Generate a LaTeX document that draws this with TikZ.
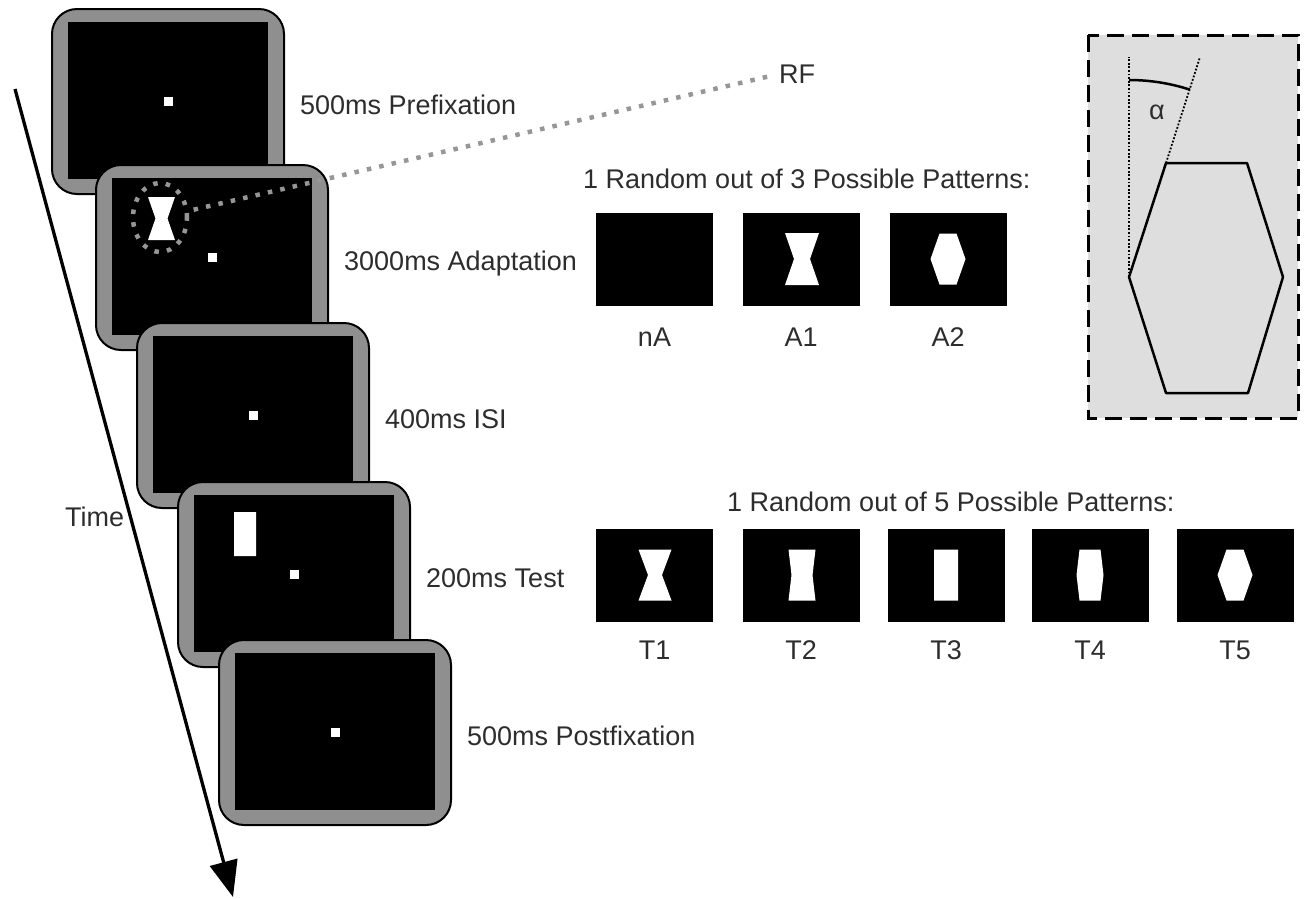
\documentclass[tikz,border=0pt]{standalone}
\usepackage{fontspec}
\setmainfont{Liberation Sans}
\usetikzlibrary{arrows.meta,calc,shapes.geometric}
\definecolor{scrgray}{RGB}{143,143,143}
\definecolor{txt}{RGB}{45,45,45}
\definecolor{insetbg}{RGB}{222,222,222}
\definecolor{rfgray}{RGB}{150,150,150}

\newcommand{\patshape}[5]{\fill[white] ({#1-(#3)/2},{#2-(#5)/2}) -- ({#1+(#3)/2},{#2-(#5)/2}) -- ({#1+(#4)/2},{#2}) -- ({#1+(#3)/2},{#2+(#5)/2}) -- ({#1-(#3)/2},{#2+(#5)/2}) -- ({#1-(#4)/2},{#2}) -- cycle;}
\newcommand{\screenbox}[2]{%
  \draw[line width=2pt, fill=scrgray, rounded corners=25pt] (#1,#2) rectangle ++(232,185);
  \fill[black] ({#1+16},{#2+13}) rectangle ++(200,157);
  \fill[white] ({#1+116-4.5},{#2+92.5-4.5}) rectangle ++(9,9);}
\newcommand{\patbox}[2]{\fill[black] ({#1-58.5},{#2-46.5}) rectangle ++(117,93);}

\tikzset{
  lab/.style={anchor=west, inner sep=0pt, text height=19.4pt, text depth=0pt,
    font=\fontsize{27}{31}\selectfont, text=txt},
  clab/.style={lab, anchor=center},
  glab/.style={inner sep=0pt, font=\fontsize{27}{31}\selectfont, text=txt},
  rfdots/.style={draw=rfgray, line width=4.5pt, dash pattern=on 4.5pt off 8.2pt},
}

\begin{document}
\begin{tikzpicture}[x=1pt,y=-1pt]
\useasboundingbox (0,0) rectangle (1305,898);

% time arrow
\coordinate (t0) at (15,89);
\coordinate (t1) at (233,897);
\draw[line width=3.3pt, -{Triangle[length=36pt,width=28pt]}] (t0) -- (t1);
\node[lab] (time) at (65,517) {Time};

% screens
\screenbox{52}{9}
\screenbox{96}{165}
\patshape{161.5}{218.5}{27}{12}{43}
\node[ellipse, rfdots, minimum width=54pt, minimum height=69pt, inner sep=0pt] (rfc) at (160,217.5) {};
\node[lab] (RF) at (779,74) {RF};
\draw[rfdots, shorten <=5pt, shorten >=5pt] (rfc) -- (RF.west);
\screenbox{137}{323}
\screenbox{178}{482}
\patshape{245}{534}{22}{22}{44}
\screenbox{219}{640}

% screen labels
\node[lab] (l1) at (300,105) {500ms Prefixation};
\node[lab] (l2) at (344,261) {3000ms Adaptation};
\node[lab] (l3) at (385,419) {400ms ISI};
\node[lab] (l4) at (426,578) {200ms Test};
\node[lab] (l5) at (467,736) {500ms Postfixation};

% adaptation patterns
\node[lab] (ta) at (583,179) {1 Random out of 3 Possible Patterns:};
\patbox{654.5}{259.5}
\patbox{801}{259.5}
\patshape{802}{259}{34}{16}{52}
\patbox{948}{259.5}
\patshape{948}{259}{17}{35}{51}
\node[clab] (nA) at (654.5,337) {nA};
\node[clab] (A1) at (801,337) {A1};
\node[clab] (A2) at (948,337) {A2};

% test patterns
\node[lab] (tt) at (727,502) {1 Random out of 5 Possible Patterns:};
\patbox{654.5}{575}
\patshape{655}{575}{33}{14}{51}
\patbox{801}{575}
\patshape{802}{575}{27}{21}{51}
\patbox{946}{575}
\patshape{946}{575}{24}{24}{51}
\patbox{1090}{575}
\patshape{1090}{575}{21}{27}{51}
\patbox{1235}{575}
\patshape{1235}{575}{17}{35}{51}
\node[clab] (T1) at (654.5,650) {T1};
\node[clab] (T2) at (801,650) {T2};
\node[clab] (T3) at (946,650) {T3};
\node[clab] (T4) at (1090,650) {T4};
\node[clab] (T5) at (1235,650) {T5};

% inset
\draw[line width=3pt, dash pattern=on 17pt off 8pt, fill=insetbg] (1088,35) rectangle (1298,418);
\draw[line width=1.8pt, dash pattern=on 1.8pt off 1.8pt] (1129,277) -- (1129,57);
\draw[line width=1.8pt, dash pattern=on 1.8pt off 1.8pt] (1166,163) -- (1200,57);
\draw[line width=2.5pt, line join=round] (1166,163) -- (1247,163) -- (1283,277) -- (1248,393) -- (1166,393) -- (1129,277) -- cycle;
\draw[line width=2.5pt] (1129,80) arc[start angle=-90, end angle=-72, radius=197];
\node[glab] (alpha) at (1157,112) {α};
\end{tikzpicture}
\end{document}
